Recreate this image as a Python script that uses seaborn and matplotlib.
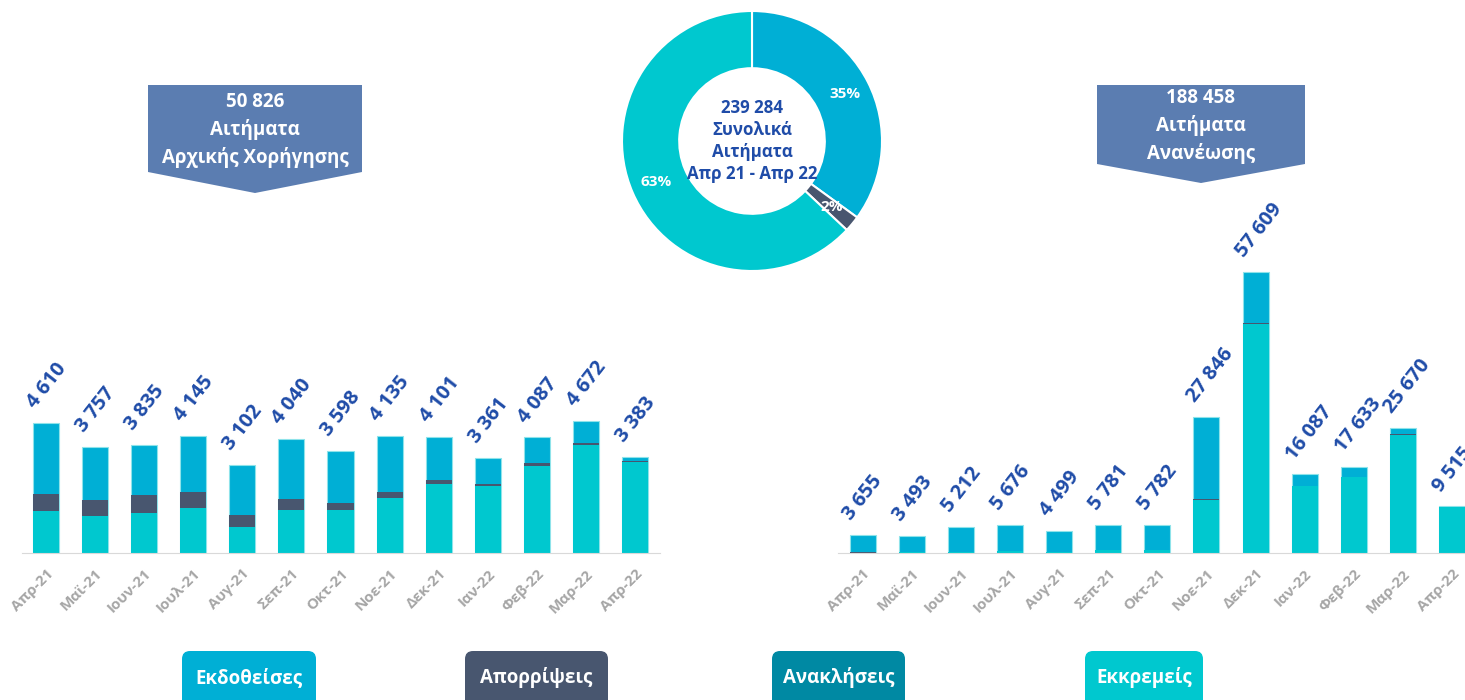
import matplotlib
matplotlib.use('Agg')
import matplotlib.pyplot as plt
from matplotlib.patches import Polygon, FancyBboxPatch
import numpy as np
import pandas as pd
import seaborn as sns

# --- data ---------------------------------------------------------------
months = ['Απρ-21', 'Μαϊ-21', 'Ιουν-21', 'Ιουλ-21', 'Αυγ-21', 'Σεπ-21', 'Οκτ-21',
          'Νοε-21', 'Δεκ-21', 'Ιαν-22', 'Φεβ-22', 'Μαρ-22', 'Απρ-22']

# Αιτήματα Αρχικής Χορήγησης
new_issued = [2542, 1889, 1799, 2003, 1765, 2149, 1846, 1994, 1513, 914, 917, 782, 132]
new_rejected = [579, 567, 628, 557, 426, 366, 238, 191, 152, 82, 96, 60, 35]
new_pending = [1489, 1301, 1408, 1585, 911, 1525, 1514, 1950, 2436, 2365, 3074, 3830, 3216]

# Αιτήματα Ανανέωσης
ren_issued = [3595, 3323, 5012, 5296, 4329, 5151, 5132, 16804, 10349, 2397, 2053, 1360, 180]
ren_rejected = [60, 20, 20, 30, 20, 30, 30, 150, 200, 60, 40, 60, 20]
ren_pending = [0, 150, 180, 350, 150, 600, 620, 10892, 47060, 13630, 15540, 24250, 9315]

donut_labels = ['Εκδοθείσες', 'Απορρίψεις', 'Εκκρεμείς']
donut_share = [35, 2, 63]

legend_labels = ['Εκδοθείσες', 'Απορρίψεις', 'Ανακλήσεις', 'Εκκρεμείς']

new_box = ['50 826', 'Αιτήματα', 'Αρχικής Χορήγησης']
ren_box = ['188 458', 'Αιτήματα', 'Ανανέωσης']
donut_text = '239 284\nΣυνολικά\nΑιτήματα\nΑπρ 21 - Απρ 22'

# --- style --------------------------------------------------------------
C_ISS = '#00AFD5'
C_REJ = '#48566F'
C_REV = '#0089A3'
C_PEN = '#00C8CF'
C_LBL = '#1F4CA8'
C_BOX = '#5B7DB1'

sns.set_style('white')
plt.rcParams['font.family'] = ['Open Sans', 'DejaVu Sans']

fig = plt.figure(figsize=(14.65, 7), dpi=100)

bg = fig.add_axes([0, 0, 1, 1], zorder=0)
bg.set_xlim(0, 1465)
bg.set_ylim(700, 0)
bg.axis('off')


def stacked(ax, issued, rejected, pending, ymax):
  df = pd.DataFrame({'month': months, 'issued': issued,
                     'rejected': rejected, 'pending': pending})
  df['lower'] = df['pending'] + df['rejected']
  df['total'] = df['lower'] + df['issued']
  # layered bars: total -> pending+rejected -> pending
  sns.barplot(data=df, x='month', y='total', color=C_ISS, width=0.53,
              saturation=1, ax=ax, linewidth=0.8, edgecolor='#8EE3EA')
  sns.barplot(data=df, x='month', y='lower', color=C_REJ, width=0.53,
              saturation=1, ax=ax, linewidth=0)
  sns.barplot(data=df, x='month', y='pending', color=C_PEN, width=0.53,
              saturation=1, ax=ax, linewidth=0)
  for i, t in enumerate(df['total']):
    ax.annotate(f'{t:,}'.replace(',', ' '), (i, t), xytext=(-8, 10),
                textcoords='offset points', rotation=52, rotation_mode='anchor',
                ha='left', va='baseline', fontsize=14.5, fontweight='bold',
                color=C_LBL, clip_on=False)
  ax.set_xlim(-0.5, 12.5)
  ax.set_ylim(0, ymax)
  ax.set_xlabel('')
  ax.set_ylabel('')
  ax.set_yticks([])
  ax.set_xticks(range(len(months)))
  ax.set_xticklabels(months, rotation=45, ha='right', rotation_mode='anchor',
                     fontsize=10.8, fontweight='bold', color='#A6A6A6')
  ax.set_xticks(np.arange(-0.5, 13, 1), minor=True)
  ax.tick_params(axis='x', which='major', length=0, pad=10)
  ax.tick_params(axis='x', which='minor', length=5, color='#D9D9D9', width=1)
  for s in ['top', 'right', 'left']:
    ax.spines[s].set_visible(False)
  ax.spines['bottom'].set_color('#D9D9D9')
  ax.patch.set_alpha(0)


ax1 = fig.add_axes([21.5 / 1465, 147.3 / 700, 638 / 1465, 352.7 / 700], zorder=2)
stacked(ax1, new_issued, new_rejected, new_pending, 352.7 * 35.46)

ax2 = fig.add_axes([838 / 1465, 147.3 / 700, 638.6 / 1465, 352.7 / 700], zorder=2)
stacked(ax2, ren_issued, ren_rejected, ren_pending, 352.7 * 205.5)

# donut
ax3 = fig.add_axes([622 / 1465, 429 / 700, 260 / 1465, 260 / 700], zorder=2)
wedges, _, autotexts = ax3.pie(
    donut_share, colors=[C_ISS, C_REJ, C_PEN], startangle=90,
    counterclock=False, autopct='%.0f%%', pctdistance=0.8, radius=1,
    wedgeprops=dict(width=0.44, edgecolor='white', linewidth=1.5))
for t in autotexts:
  t.set_color('white')
  t.set_fontsize(11)
  t.set_fontweight('bold')
ax3.set_xlim(-1, 1)
ax3.set_ylim(-1, 1)
ax3.text(0, 0, donut_text, ha='center', va='center', fontsize=12.2,
         fontweight='bold', color=C_LBL, linespacing=1.3)

# callout boxes
bg.add_patch(Polygon([(148, 85), (362, 85), (362, 172), (255, 193), (148, 172)],
                     closed=True, facecolor=C_BOX, edgecolor='none'))
bg.add_patch(Polygon([(1097, 85), (1305, 85), (1305, 164), (1201, 183), (1097, 164)],
                     closed=True, facecolor=C_BOX, edgecolor='none'))
for k, line in enumerate(new_box):
  bg.text(255, 102 + 28 * k, line, ha='center', va='center', fontsize=13.5,
          fontweight='bold', color='white')
for k, line in enumerate(ren_box):
  bg.text(1201, 98 + 28 * k, line, ha='center', va='center', fontsize=13.5,
          fontweight='bold', color='white')

# legend boxes
leg_x = [(182, 316), (465, 608), (772, 905), (1085, 1203)]
for (x0, x1), lab, col in zip(leg_x, legend_labels, [C_ISS, C_REJ, C_REV, C_PEN]):
  bg.add_patch(FancyBboxPatch((x0, 651), x1 - x0, 80,
                              boxstyle='round,pad=0,rounding_size=8',
                              facecolor=col, edgecolor='none'))
  bg.text((x0 + x1) / 2, 678, lab, ha='center', va='center', fontsize=13.5,
          fontweight='bold', color='white')

fig.savefig('out.png', dpi=100)
